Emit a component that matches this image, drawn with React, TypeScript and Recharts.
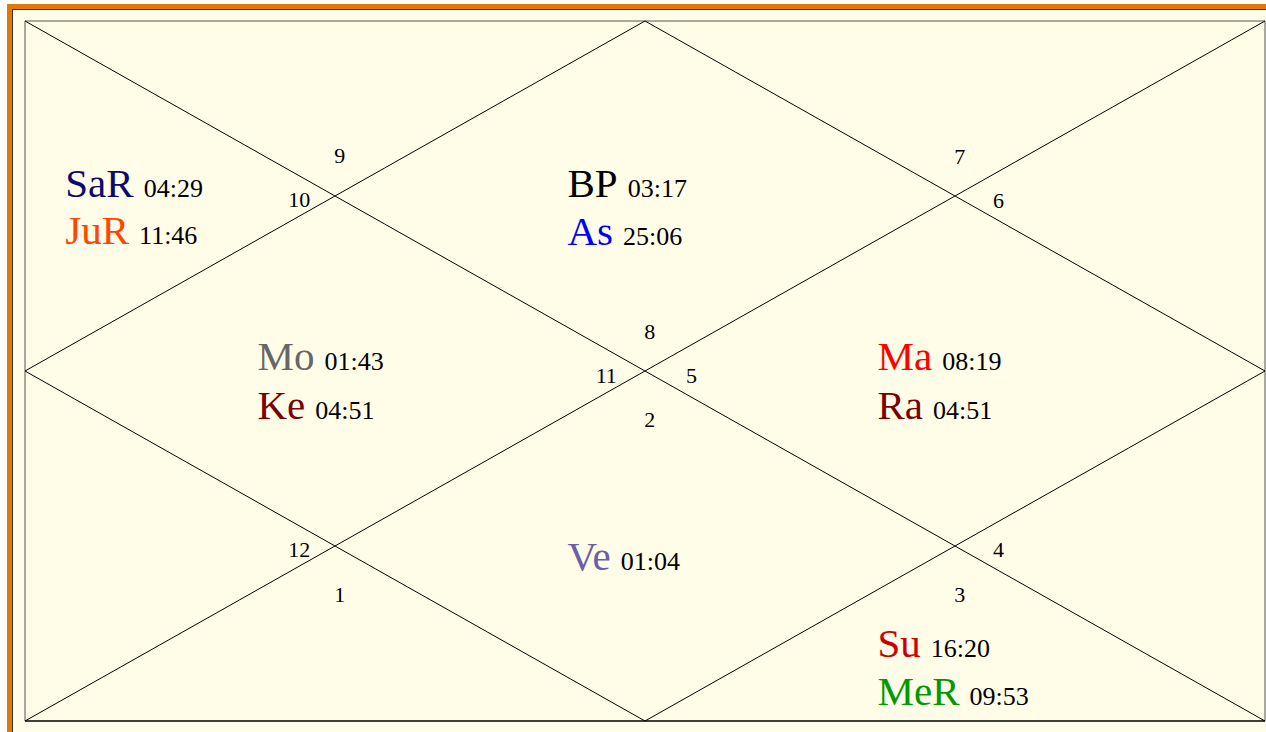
import { ComposedChart, Scatter, XAxis, YAxis, ReferenceLine } from "recharts";

// chart grid is 8 x 8 units, y runs top to bottom
const FRAME = [
  [0, 0, 8, 0],
  [8, 0, 8, 8],
  [0, 8, 0, 0],
];
const BASE = [[8, 8, 0, 8]];
const DIAGONALS = [
  [0, 0, 8, 8],
  [0, 8, 8, 0],
];
const DIAMOND = [
  [4, 0, 8, 4],
  [8, 4, 4, 8],
  [4, 8, 0, 4],
  [0, 4, 4, 0],
];

const HOUSES = [
  { label: "9", x: 2.03, y: 1.53 },
  { label: "10", x: 1.77, y: 2.03 },
  { label: "7", x: 6.03, y: 1.54 },
  { label: "6", x: 6.28, y: 2.05 },
  { label: "8", x: 4.03, y: 3.54 },
  { label: "11", x: 3.75, y: 4.05 },
  { label: "5", x: 4.3, y: 4.05 },
  { label: "2", x: 4.03, y: 4.55 },
  { label: "12", x: 1.77, y: 6.03 },
  { label: "1", x: 2.03, y: 6.55 },
  { label: "4", x: 6.28, y: 6.03 },
  { label: "3", x: 6.03, y: 6.55 },
];

const PLANETS = [
  { name: "SaR", deg: "04:29", color: "#0a0a6e", x: 0.26, y: 2.01 },
  { name: "JuR", deg: "11:46", color: "#ff4500", x: 0.26, y: 2.55 },
  { name: "BP", deg: "03:17", color: "#000000", x: 3.5, y: 2.01 },
  { name: "As", deg: "25:06", color: "#0000ff", x: 3.5, y: 2.56 },
  { name: "Mo", deg: "01:43", color: "#666666", x: 1.5, y: 3.99 },
  { name: "Ke", deg: "04:51", color: "#7a0000", x: 1.5, y: 4.55 },
  { name: "Ma", deg: "08:19", color: "#ff0000", x: 5.5, y: 3.99 },
  { name: "Ra", deg: "04:51", color: "#7a0000", x: 5.5, y: 4.55 },
  { name: "Ve", deg: "01:04", color: "#6a5fa8", x: 3.5, y: 6.27 },
  { name: "Su", deg: "16:20", color: "#cc0000", x: 5.5, y: 7.27 },
  { name: "MeR", deg: "09:53", color: "#009900", x: 5.5, y: 7.82 },
];

const FONT = "'Liberation Serif', 'Times New Roman', serif";

interface ShapeProps {
  cx?: number;
  cy?: number;
  payload?: any;
}

function HouseLabel({ cx, cy, payload }: ShapeProps) {
  if (cx === undefined || cy === undefined || !payload) return <g />;
  return (
    <text x={cx} y={cy} dy={8} textAnchor="middle" fontFamily={FONT} fontSize={22} fill="#000">
      {payload.label}
    </text>
  );
}

function PlanetLabel({ cx, cy, payload }: ShapeProps) {
  if (cx === undefined || cy === undefined || !payload) return <g />;
  return (
    <text x={cx} y={cy} fontFamily={FONT} fill="#000">
      <tspan fontSize={41} fill={payload.color}>{payload.name}</tspan>
      <tspan fontSize={26} dx={10}>{payload.deg}</tspan>
    </text>
  );
}

const seg = (s: number[]) => [
  { x: s[0], y: s[1] },
  { x: s[2], y: s[3] },
];

export default function App() {
  return (
    <div style={{ position: "absolute", left: 0, top: 0, width: 1266, height: 732, background: "#fff", overflow: "hidden" }}>
      <div
        style={{
          position: "absolute",
          left: 7,
          top: 4,
          width: 1259,
          height: 728,
          boxSizing: "border-box",
          borderLeft: "5px solid #e67700",
          borderTop: "5px solid #e67700",
          background: "#fffde8",
        }}
      />
      <div
        style={{
          position: "absolute",
          left: 12,
          top: 9,
          width: 1254,
          height: 723,
          boxSizing: "border-box",
          borderLeft: "1px solid #333",
          borderTop: "1px solid #333",
        }}
      />
      <div style={{ position: "absolute", left: 24, top: 20 }}>
        <ComposedChart width={1242} height={702} margin={{ top: 1, right: 1, bottom: 1, left: 1 }}>
          <XAxis type="number" dataKey="x" domain={[0, 8]} hide allowDataOverflow />
          <YAxis type="number" dataKey="y" domain={[0, 8]} reversed hide allowDataOverflow />
          {FRAME.map((s, i) => (
            <ReferenceLine key={`f${i}`} segment={seg(s)} stroke="#555" strokeWidth={1} ifOverflow="visible" />
          ))}
          {BASE.map((s, i) => (
            <ReferenceLine key={`b${i}`} segment={seg(s)} stroke="#000" strokeWidth={1.5} ifOverflow="visible" />
          ))}
          {DIAGONALS.map((s, i) => (
            <ReferenceLine key={`d${i}`} segment={seg(s)} stroke="#000" strokeWidth={1} ifOverflow="visible" />
          ))}
          {DIAMOND.map((s, i) => (
            <ReferenceLine key={`m${i}`} segment={seg(s)} stroke="#000" strokeWidth={1} ifOverflow="visible" />
          ))}
          <Scatter
            data={HOUSES}
            isAnimationActive={false}
            shape={(props: ShapeProps) => <HouseLabel {...props} />}
          />
          <Scatter
            data={PLANETS}
            isAnimationActive={false}
            shape={(props: ShapeProps) => <PlanetLabel {...props} />}
          />
        </ComposedChart>
      </div>
    </div>
  );
}
